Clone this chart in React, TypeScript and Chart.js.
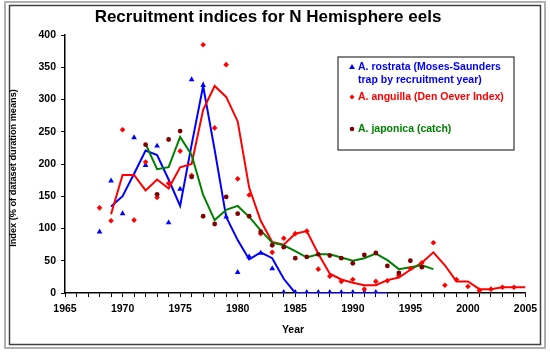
import React, { useEffect, useRef } from "react";
import { Chart, registerables } from "chart.js";

Chart.register(...registerables);

const FONT = "'Liberation Sans', Arial, sans-serif";

// A. rostrata (blue)
const rostrataPtYears = [1968, 1969, 1970, 1971, 1972, 1973, 1974, 1975, 1976, 1977, 1979, 1980, 1981, 1982, 1983, 1984, 1985, 1986, 1987, 1988, 1989, 1990, 1991, 1992];
const rostrataPts = [95, 174, 123, 241, 198, 228, 109, 161, 331, 322, 118, 32, 56, 62, 38, 1, 1, 1, 1, 1, 1, 1, 1, 1];
const rostrataLineYears = [1969, 1970, 1971, 1972, 1973, 1974, 1975, 1976, 1977, 1978, 1979, 1980, 1981, 1982, 1983, 1984, 1985, 1986, 1987, 1988, 1989, 1990, 1991, 1992, 1993];
const rostrataLine = [134, 150, 185, 221, 214, 176, 135, 230, 321, 222, 118, 82, 52, 63, 54, 22, 0, 0, 0, 0, 0, 0, 0, 0, 0];

// A. anguilla (red)
const anguillaPtYears = [1968, 1969, 1970, 1971, 1972, 1973, 1974, 1975, 1976, 1977, 1978, 1979, 1980, 1981, 1982, 1983, 1984, 1985, 1986, 1987, 1988, 1989, 1990, 1991, 1992, 1993, 1994, 1995, 1996, 1997, 1998, 1999, 2000, 2001, 2002, 2003, 2004];
const anguillaPts = [132, 112, 253, 113, 203, 148, 170, 220, 182, 385, 256, 354, 177, 152, 92, 63, 85, 92, 96, 37, 26, 18, 21, 6, 18, 19, 27, 38, 47, 78, 12, 21, 10, 4, 6, 9, 9];
const anguillaLineYears = [1969, 1970, 1971, 1972, 1973, 1974, 1975, 1976, 1977, 1978, 1979, 1980, 1981, 1982, 1983, 1984, 1985, 1986, 1987, 1988, 1989, 1990, 1991, 1992, 1993, 1994, 1995, 1996, 1997, 1998, 1999, 2000, 2001, 2002, 2003, 2004, 2005];
const anguillaLine = [122, 183, 183, 159, 176, 162, 195, 200, 284, 321, 304, 266, 163, 112, 79, 75, 92, 96, 61, 30, 21, 16, 12, 12, 20, 24, 36, 47, 63, 43, 18, 18, 6, 6, 9, 9, 9];

// A. japonica (dark red points, green line)
const japonicaPtYears = [1972, 1973, 1974, 1975, 1976, 1977, 1978, 1979, 1980, 1981, 1982, 1983, 1984, 1985, 1986, 1987, 1988, 1989, 1990, 1991, 1992, 1993, 1994, 1995, 1996];
const japonicaPts = [230, 153, 238, 251, 180, 119, 107, 149, 123, 119, 95, 74, 71, 54, 56, 60, 58, 54, 46, 59, 62, 42, 31, 50, 40];
const japonicaLineYears = [1972, 1973, 1974, 1975, 1976, 1977, 1978, 1979, 1980, 1981, 1982, 1983, 1984, 1985, 1986, 1987, 1988, 1989, 1990, 1991, 1992, 1993, 1994, 1995, 1996, 1997];
const japonicaLine = [231, 192, 195, 242, 214, 152, 113, 129, 135, 118, 97, 78, 74, 65, 55, 60, 60, 55, 50, 54, 61, 51, 37, 40, 43, 37];

const titleText = "Recruitment indices for N Hemisphere eels";
const yTitle = "Index (% of dataset duration means)";
const xTitle = "Year";
const legendLines = [
  { text: "A. rostrata (Moses-Saunders", color: "#0000ff", marker: "triangle" },
  { text: "trap by recruitment year)", color: "#0000ff", marker: "" },
  { text: "A. anguilla (Den Oever Index)", color: "#ff0000", marker: "diamond" },
  { text: "A. japonica (catch)", color: "#008000", marker: "circle" },
];

const BLUE = "#0000ff";
const RED = "#ff0000";
const GREEN = "#008000";
const DARKRED = "#800000";

function xy(xs: number[], ys: number[]) {
  return xs.map((x, i) => ({ x, y: ys[i] }));
}

const decorPlugin = {
  id: "decor",
  beforeDraw(chart: any) {
    const c = chart.ctx;
    c.save();
    c.fillStyle = "#ffffff";
    c.fillRect(0, 0, chart.width, chart.height);
    c.restore();
  },
  afterDraw(chart: any) {
    const c = chart.ctx as CanvasRenderingContext2D;
    c.save();
    // frame
    c.strokeStyle = "#b0b0b0";
    c.lineWidth = 2;
    c.strokeRect(5, 2, 540, 346);
    c.strokeStyle = "#404040";
    c.lineWidth = 1.5;
    c.strokeRect(9.5, 5.5, 531, 339);

    // title
    c.fillStyle = "#000";
    c.textAlign = "center";
    c.textBaseline = "middle";
    c.font = `bold 17px ${FONT}`;
    c.fillText(titleText, 268, 17.5);

    // x title
    c.font = `bold 10.5px ${FONT}`;
    c.fillText(xTitle, 293, 330);

    // y title
    c.save();
    c.translate(13, 168);
    c.rotate(-Math.PI / 2);
    c.font = `bold 9.2px ${FONT}`;
    c.fillText(yTitle, 0, 0);
    c.restore();

    // legend box
    c.strokeStyle = "#333";
    c.lineWidth = 1.2;
    c.fillStyle = "#fff";
    c.fillRect(338, 57, 176, 93);
    c.strokeRect(338, 57, 176, 93);

    const ys = [67, 80.5, 97, 129];
    c.textAlign = "left";
    c.font = `bold 10.5px ${FONT}`;
    legendLines.forEach((l, i) => {
      const y = ys[i];
      c.fillStyle = l.color;
      c.fillText(l.text, 358, y);
      if (l.marker === "triangle") {
        c.fillStyle = BLUE;
        c.beginPath();
        c.moveTo(352, y - 3);
        c.lineTo(355, y + 2);
        c.lineTo(349, y + 2);
        c.closePath();
        c.fill();
      } else if (l.marker === "diamond") {
        c.fillStyle = RED;
        c.beginPath();
        c.moveTo(352, y - 2.5);
        c.lineTo(354.5, y);
        c.lineTo(352, y + 2.5);
        c.lineTo(349.5, y);
        c.closePath();
        c.fill();
      } else if (l.marker === "circle") {
        c.fillStyle = DARKRED;
        c.beginPath();
        c.arc(352, y, 2.3, 0, Math.PI * 2);
        c.fill();
      }
    });
    c.restore();
  },
};

export default function App() {
  const ref = useRef<HTMLCanvasElement>(null);
  useEffect(() => {
    const canvas = ref.current!;
    const lineDs = (label: string, data: any, color: string) => ({
      label,
      data,
      borderColor: color,
      backgroundColor: color,
      borderWidth: 2,
      pointRadius: 0,
      showLine: true,
      tension: 0,
    });
    const ptDs = (label: string, data: any, color: string, style: string, r: number) => ({
      label,
      data,
      borderColor: color,
      backgroundColor: color,
      borderWidth: 0,
      pointRadius: r,
      pointStyle: style,
      pointBorderWidth: 0,
      showLine: false,
    });
    const tickFont = { family: FONT, size: 10.5, weight: "bold" as const };
    const chart = new Chart(canvas, {
      type: "line",
      data: {
        datasets: [
          ptDs("A. japonica pts", xy(japonicaPtYears, japonicaPts), DARKRED, "circle", 2.4),
          ptDs("A. anguilla pts", xy(anguillaPtYears, anguillaPts), RED, "rectRot", 2.8),
          ptDs("A. rostrata pts", xy(rostrataPtYears, rostrataPts), BLUE, "triangle", 3.3),
          lineDs("A. japonica", xy(japonicaLineYears, japonicaLine), GREEN),
          lineDs("A. anguilla", xy(anguillaLineYears, anguillaLine), RED),
          lineDs("A. rostrata", xy(rostrataLineYears, rostrataLine), BLUE),
        ] as any,
      },
      options: {
        responsive: false,
        animation: false,
        events: [],
        layout: { padding: { left: 0, right: 24.5, top: 35, bottom: 0 } },
        scales: {
          x: {
            type: "linear",
            min: 1965,
            max: 2005,
            ticks: {
              stepSize: 1,
              autoSkip: false,
              maxRotation: 0,
              color: "#000",
              font: tickFont,
              padding: 6,
              callback: (v: any) => (Number(v) % 5 === 0 ? String(v) : ""),
            },
            grid: { display: true, drawOnChartArea: false, drawTicks: true, tickLength: 4, color: "#000", lineWidth: 1 },
            border: { display: true, color: "#000", width: 1.5 },
            afterFit: (s: any) => {
              s.height = 64;
            },
          },
          y: {
            min: 0,
            max: 400,
            ticks: { stepSize: 50, color: "#000", font: tickFont, padding: 5 },
            grid: { display: true, drawOnChartArea: false, drawTicks: true, tickLength: 4, color: "#000", lineWidth: 1 },
            border: { display: true, color: "#000", width: 1.5 },
            afterFit: (s: any) => {
              s.width = 65;
            },
          },
        },
        plugins: {
          legend: { display: false },
          title: { display: false },
          tooltip: { enabled: false },
        },
      } as any,
      plugins: [decorPlugin],
    });
    return () => chart.destroy();
  }, []);
  return (
    <div style={{ position: "fixed", left: 0, top: 0, width: 550, height: 357, background: "#fff" }}>
      <canvas ref={ref} width={550} height={357} style={{ display: "block", width: 550, height: 357 }} />
    </div>
  );
}
